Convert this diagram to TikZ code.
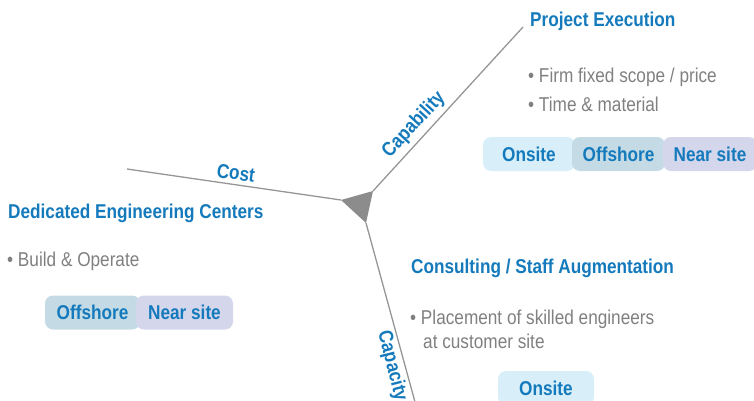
\documentclass[tikz,border=0pt]{standalone}
\usepackage{fontspec}
\setmainfont{Liberation Sans}[FakeStretch=0.86]
\definecolor{hblue}{RGB}{20,122,188}
\definecolor{tgray}{RGB}{128,128,128}
\definecolor{lgray}{RGB}{150,150,150}
\definecolor{trigray}{RGB}{140,140,140}
\definecolor{onsitec}{RGB}{216,239,250}
\definecolor{offshorec}{RGB}{196,219,230}
\definecolor{nearc}{RGB}{212,214,236}
\tikzset{
  head/.style={anchor=base west, inner sep=0pt, text=hblue, font=\fontsize{20}{24}\selectfont\bfseries},
  bullettext/.style={anchor=base west, inner sep=0pt, text=tgray, font=\fontsize{20}{24}\selectfont},
  axislabel/.style={inner sep=0pt, text=hblue, font=\fontsize{20}{24}\selectfont\bfseries},
  pill/.style={rounded corners=8pt, inner sep=0pt, minimum height=34pt, text=hblue, font=\fontsize{20}{24}\selectfont\bfseries},
  axisline/.style={draw=lgray, line width=1.3pt}
}
\begin{document}
\begin{tikzpicture}[x=1pt,y=-1pt]
\useasboundingbox (0,0) rectangle (754,401);
% triangle vertices and line ends
\coordinate (tl) at (341,200);
\coordinate (tr) at (373,191);
\coordinate (tb) at (366,223);
\coordinate (costend) at (127,169);
\coordinate (capend) at (523,27);
\coordinate (capaend) at (415,402);
\fill[trigray] (tl) -- (tr) -- (tb) -- cycle;
\draw[axisline] (costend) -- (tl);
\draw[axisline] (tr) -- (capend);
\draw[axisline] (tb) -- (capaend);
% axis labels
\node[axislabel, rotate=-8.3] (cost) at (236,173) {Cost};
\node[axislabel, rotate=47.3] (capab) at (414,125) {Capability};
\node[axislabel, rotate=-75.7] (capac) at (392,366) {Capacity};
% Project Execution
\node[head] (pe) at (530,27) {Project Execution};
\node[bullettext] (pe1) at (528,83) {\textbullet\ Firm fixed scope / price};
\node[bullettext] (pe2) at (528,111) {\textbullet\ Time \& material};
\node[pill, fill=onsitec, minimum width=92pt] (pon) at (529,154) {Onsite};
\node[pill, fill=offshorec, minimum width=93pt] (poff) at (618.5,154) {Offshore};
\node[pill, fill=nearc, minimum width=94pt] (pnear) at (710,154) {Near site};
% Dedicated Engineering Centers
\node[head] (dec) at (8,218) {Dedicated Engineering Centers};
\node[bullettext] (dec1) at (7,266) {\textbullet\ Build \& Operate};
\node[pill, fill=offshorec, minimum width=95pt] (doff) at (92.5,312.5) {Offshore};
\node[pill, fill=nearc, minimum width=97pt] (dnear) at (184.5,312.5) {Near site};
% Consulting
\node[head] (cs) at (411,273) {Consulting / Staff Augmentation};
\node[bullettext] (cs1) at (410,324) {\textbullet\ Placement of skilled engineers};
\node[bullettext] (cs2) at (423,348) {at customer site};
\node[pill, fill=onsitec, minimum width=96pt] (con) at (546,388) {Onsite};
\end{tikzpicture}
\end{document}
